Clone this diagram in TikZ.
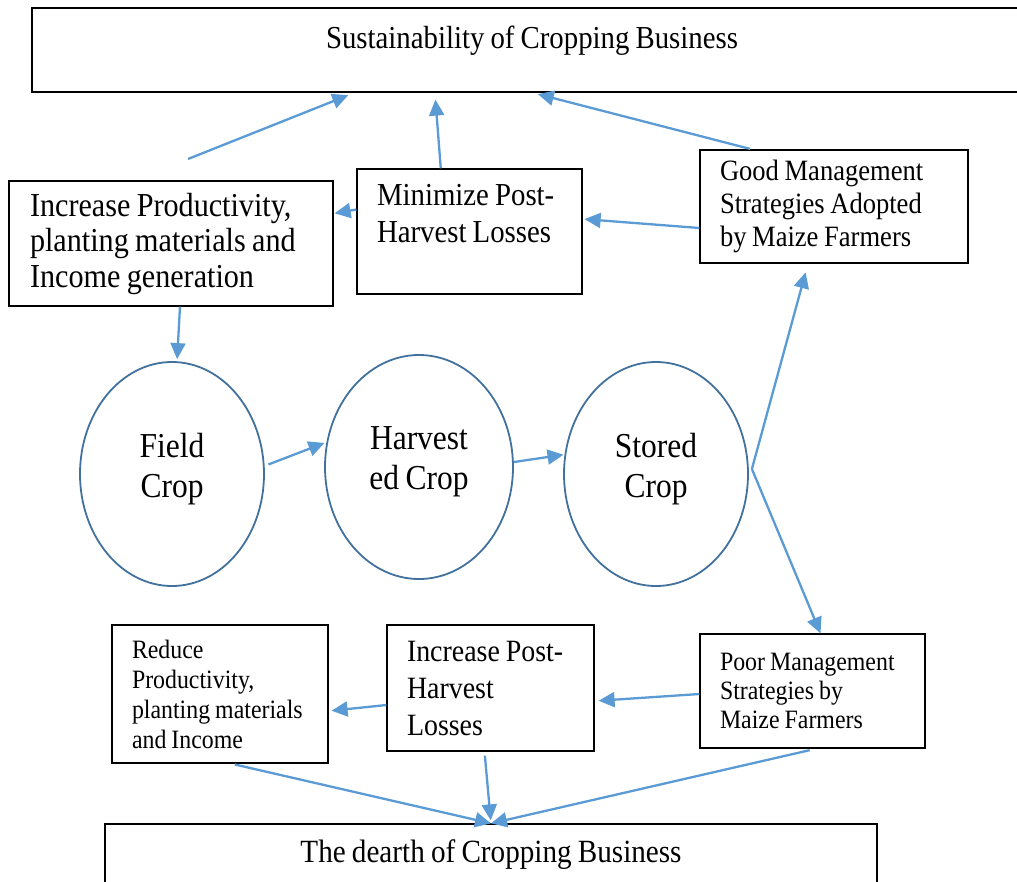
\documentclass[tikz,border=0pt]{standalone}
\usepackage{fontspec}
\setmainfont{Liberation Serif}[FakeStretch=0.9,WordSpace=0.85]
\usepackage{tikz}
\usetikzlibrary{shapes.geometric,arrows.meta,calc}
\definecolor{arrowblue}{HTML}{5B9BD5}
\definecolor{ovalblue}{HTML}{41719C}

\begin{document}
\begin{tikzpicture}[x=1pt,y=-1pt,
		box/.style={draw,line width=1.2pt,align=flush left,inner xsep=20pt,inner ysep=0pt},
		oval/.style={draw=ovalblue,ellipse,line width=1.8pt,align=center,inner sep=0pt,
			text depth=18pt,font=\fontsize{35}{40}\selectfont},
		link/.style={draw=arrowblue,line width=2.3pt,-{Triangle[length=16pt,width=15pt]}}]
		\useasboundingbox (0,0) rectangle (1017,881);
		\node[box,align=center,minimum width=1000pt,text height=40pt,text depth=44pt,
			font=\fontsize{32}{38}\selectfont] (top) at (532,50) {Sustainability of Cropping Business};
		\node[box,text width=282pt,inner xsep=21pt,minimum height=125pt,
			font=\fontsize{33.5}{35.5}\selectfont] (inc) at (171,243.5) {Increase Productivity,\\planting materials and\\Income generation};
		\node[box,text width=185pt,minimum height=125pt,
			font=\fontsize{32}{37}\selectfont] (mini) at (469.5,231.5) {Minimize Post-\\Harvest Losses\\ \mbox{}};
		\node[box,text width=228pt,minimum height=113pt,
			font=\fontsize{29.5}{33}\selectfont] (good) at (834,206.5) {Good Management\\Strategies Adopted\\by Maize Farmers};
		\node[oval,minimum width=184pt,minimum height=224pt] (field) at (172,474) {Field\\Crop};
		\node[oval,minimum width=188pt,minimum height=224pt] (harv) at (419,467) {Harvest\\ed Crop};
		\node[oval,minimum width=184pt,minimum height=224pt] (stor) at (656,474) {Stored\\Crop};
		\node[box,text width=176pt,minimum height=138pt,
			font=\fontsize{26.5}{30}\selectfont] (red) at (220,694) {Reduce\\Productivity,\\planting materials\\and Income};
		\node[box,text width=167pt,minimum height=126pt,
			font=\fontsize{31}{37}\selectfont] (ipl) at (490.5,688) {Increase Post-\\Harvest\\Losses};
		\node[box,text width=185pt,minimum height=114pt,
			font=\fontsize{26.5}{29}\selectfont] (poor) at (812.5,691) {Poor Management\\Strategies by\\Maize Farmers};
		\node[box,align=center,minimum width=772pt,text height=38pt,text depth=40pt,
			font=\fontsize{32.4}{38}\selectfont] (dearth) at (491,863) {The dearth of Cropping Business};
		\coordinate (s1) at (188,159);
		\coordinate (fork) at ([shift={(3pt,5pt)}]stor.east);
		\draw[link,shorten >=7pt] (s1) -- ($(top.south west)!0.323!(top.south east)$);
		\draw[link,shorten >=7pt] ($(mini.north west)!0.373!(mini.north east)$) -- ($(top.south west)!0.403!(top.south east)$);
		\draw[link,shorten <=2pt,shorten >=6pt] ([xshift=-82pt]good.north) -- (top.south);
		\draw[link,shorten >=2pt] ([yshift=-21.5pt]good.west) -- ([yshift=12.5pt]mini.east);
		\draw[link,shorten >=1pt] ([yshift=22pt]mini.west) -- ([yshift=30pt]inc.east);
		\draw[link,shorten >=2pt] ([xshift=9pt]inc.south) -- ([xshift=5pt]field.north);
		\draw[link,shorten <=4pt,shorten >=2pt] (field.5) -- (harv.165);
		\draw[link,shorten >=1pt] (harv.3) -- (stor.168);
		\draw[link,shorten >=9pt] (fork) -- ([xshift=-26pt]good.south);
		\draw[link] (fork) -- ([xshift=8pt]poor.north);
		\draw[link,shorten >=4pt] ([yshift=-3pt]poor.west) -- ([yshift=-13pt]ipl.east);
		\draw[link,shorten >=3pt] ([yshift=-17pt]ipl.west) -- ([yshift=-17pt]red.east);
		\draw[link,shorten <=4pt] ([xshift=11pt]red.south) -- (dearth.north);
		\draw[link,shorten <=4pt,shorten >=3pt] ([xshift=-6pt]ipl.south) -- (dearth.north);
		\draw[link,shorten <=7pt] ([xshift=4pt]poor.south) -- (dearth.north);
	\end{tikzpicture}
\end{document}
